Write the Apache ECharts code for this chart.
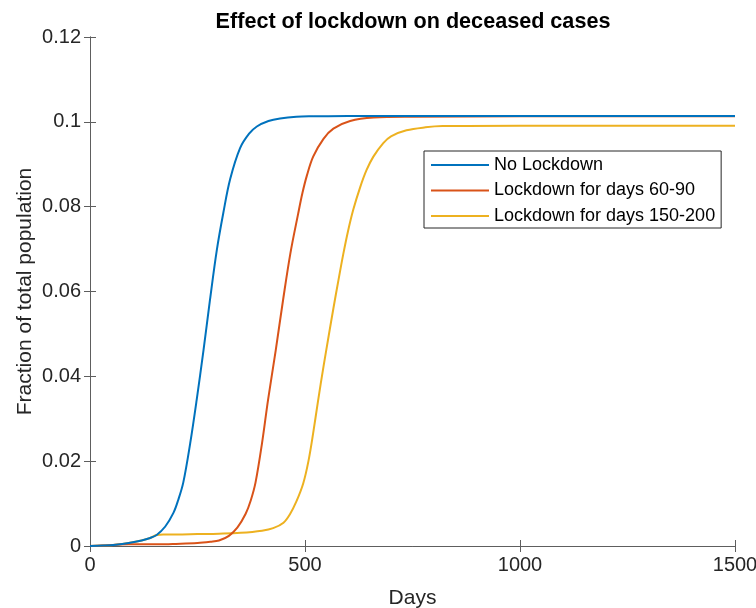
<!DOCTYPE html>
<html>
<head>
<meta charset="utf-8">
<script src="https://cdn.jsdelivr.net/npm/echarts@6/dist/echarts.min.js"></script>
<style>
  html, body { margin: 0; padding: 0; background: #fff; overflow: hidden; }
  #chart { width: 756px; height: 608px; }
</style>
</head>
<body>
<div id="chart"></div>
<script>
// Cumulative deceased fraction over time for three lockdown scenarios
const seriesNames = ['No Lockdown', 'Lockdown for days 60-90', 'Lockdown for days 150-200'];

const noLockdownDays = [0, 30, 60, 90, 120, 140, 155, 175, 194, 205, 217, 233, 248, 264, 279, 295, 310, 326, 349, 370, 388, 415, 442, 480, 519, 600, 800, 1000, 1200, 1500];
const noLockdownVals = [0, 0.0001, 0.0003, 0.0007, 0.0013, 0.0019, 0.0026, 0.0046, 0.0078, 0.0108, 0.0150, 0.0242, 0.0344, 0.0462, 0.0580, 0.0698, 0.0785, 0.0865, 0.0938, 0.0972, 0.0989, 0.1002, 0.1008, 0.1012, 0.1013, 0.1014, 0.1014, 0.1014, 0.1014, 0.1014];

const early60Days = [0, 30, 60, 90, 120, 160, 200, 250, 280, 300, 323, 343, 362, 374, 385, 400, 414, 432, 449, 466, 484, 494, 504, 519, 543, 566, 605, 660, 750, 1000, 1500];
const early60Vals = [0, 0.0001, 0.0003, 0.0004, 0.0004, 0.0004, 0.0005, 0.0007, 0.0010, 0.0013, 0.0024, 0.0044, 0.0076, 0.0108, 0.0150, 0.0242, 0.0344, 0.0462, 0.0580, 0.0690, 0.0783, 0.0832, 0.0872, 0.0918, 0.0960, 0.0984, 0.1002, 0.1010, 0.1012, 0.1013, 0.1013];

const late150Days = [0, 30, 60, 90, 120, 140, 155, 170, 200, 250, 300, 350, 400, 426, 450, 465, 480, 496, 508, 519, 530, 543, 555, 566, 578, 589, 600, 612, 628, 643, 659, 682, 700, 736, 780, 820, 1000, 1500];
const late150Vals = [0, 0.0001, 0.0003, 0.0007, 0.0013, 0.0019, 0.0026, 0.0027, 0.0027, 0.0028, 0.0029, 0.0031, 0.0036, 0.0042, 0.0055, 0.0075, 0.0105, 0.0148, 0.0200, 0.0266, 0.0340, 0.0423, 0.0495, 0.0560, 0.0628, 0.0688, 0.0742, 0.0792, 0.0845, 0.0886, 0.0918, 0.0950, 0.0966, 0.0980, 0.0987, 0.0990, 0.0991, 0.0991];

const xTicks = { min: 0, max: 1500, interval: 500 };
const yTicks = { min: 0, max: 0.12, interval: 0.02 };

const colors = ['#0072BD', '#D95319', '#EDB120'];
const FONT = '"Liberation Sans", Arial, Helvetica, sans-serif';
const AXIS_COLOR = '#5e5e5e';
const TEXT_COLOR = '#262626';

function pairs(xs, ys) { return xs.map((x, i) => [x, ys[i]]); }

const chart = echarts.init(document.getElementById('chart'), null, { renderer: 'canvas' });

const boxAxis = {
  axisLine: { show: true, lineStyle: { color: AXIS_COLOR, width: 1 } },
  axisTick: { show: true, inside: true, length: 6, lineStyle: { color: AXIS_COLOR } },
  splitLine: { show: false }
};

chart.setOption({
  animation: false,
  backgroundColor: '#ffffff',
  textStyle: { fontFamily: FONT },
  title: {
    text: 'Effect of lockdown on deceased cases',
    left: 408,
    top: 6,
    textAlign: 'center',
    textStyle: { fontFamily: FONT, fontWeight: 'bold', fontSize: 21.6, color: '#000' }
  },
  grid: { left: 90, right: 21, top: 37, bottom: 62, containLabel: false, outerBoundsMode: 'none' },
  legend: {
    data: seriesNames,
    orient: 'vertical',
    left: 424,
    top: 151,
    padding: [5, 6, 3, 7],
    itemGap: 7.5,
    itemWidth: 58,
    itemHeight: 2,
    icon: 'rect',
    borderColor: '#262626',
    borderWidth: 1,
    backgroundColor: '#fff',
    textStyle: { fontFamily: FONT, fontSize: 18, color: '#000', lineHeight: 18 }
  },
  xAxis: [
    Object.assign({
      type: 'value', position: 'bottom',
      min: xTicks.min, max: xTicks.max, interval: xTicks.interval,
      name: 'Days', nameLocation: 'middle', nameGap: 42, nameMoveOverlap: false,
      nameTextStyle: { fontFamily: FONT, fontSize: 21, color: TEXT_COLOR },
      axisLabel: { fontFamily: FONT, fontSize: 20, color: TEXT_COLOR, margin: 9, formatter: v => String(v) }
    }, boxAxis),
    Object.assign({
      type: 'value', position: 'top',
      min: xTicks.min, max: xTicks.max, interval: xTicks.interval,
      axisLabel: { show: false }
    }, boxAxis)
  ],
  yAxis: [
    Object.assign({
      type: 'value', position: 'left',
      min: yTicks.min, max: yTicks.max, interval: yTicks.interval,
      name: 'Fraction of total population', nameLocation: 'middle', nameGap: 54, nameRotate: 90,
      nameMoveOverlap: false,
      nameTextStyle: { fontFamily: FONT, fontSize: 21, color: TEXT_COLOR },
      axisLabel: {
        fontFamily: FONT, fontSize: 20, color: TEXT_COLOR, margin: 9,
        formatter: v => String(Math.round(v * 100) / 100)
      }
    }, boxAxis),
    Object.assign({
      type: 'value', position: 'right',
      min: yTicks.min, max: yTicks.max, interval: yTicks.interval,
      axisLabel: { show: false }
    }, boxAxis)
  ],
  series: [
    [noLockdownDays, noLockdownVals],
    [early60Days, early60Vals],
    [late150Days, late150Vals]
  ].map((d, i) => ({
    name: seriesNames[i],
    type: 'line',
    xAxisIndex: 0,
    yAxisIndex: 0,
    data: pairs(d[0], d[1]),
    showSymbol: false,
    smooth: 0.35,
    z: 3 - i,
    color: colors[i],
    lineStyle: { color: colors[i], width: 2 }
  }))
});
</script>
</body>
</html>
